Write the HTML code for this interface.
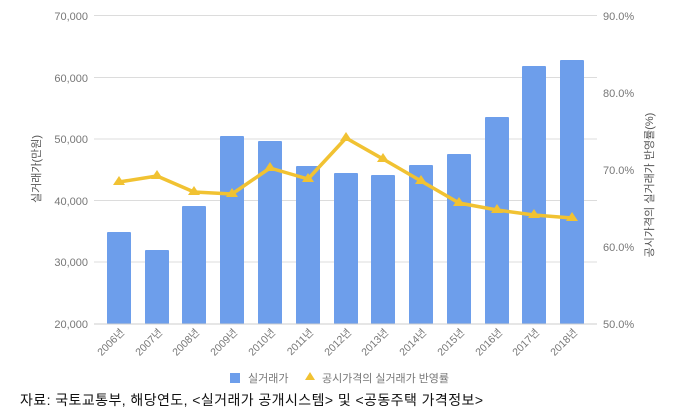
<!DOCTYPE html>
<html><head><meta charset="utf-8"><style>
html,body{margin:0;padding:0;background:#fff;}
svg{display:block;font-family:"Liberation Sans","Noto Sans CJK KR",sans-serif;}
</style></head><body>
<svg width="680" height="419" viewBox="0 0 680 419">
<g stroke="#dcdcdc" stroke-width="1">
<line x1="94" x2="597" y1="15.5" y2="15.5"/>
<line x1="94" x2="597" y1="77.5" y2="77.5"/>
<line x1="94" x2="597" y1="139" y2="139"/>
<line x1="94" x2="597" y1="200.5" y2="200.5"/>
<line x1="94" x2="597" y1="262" y2="262"/>
</g>
<g fill="#6d9eeb">
<rect x="107" y="232" width="24" height="92" rx="1"/>
<rect x="145" y="250" width="24" height="74" rx="1"/>
<rect x="182" y="206" width="24" height="118" rx="1"/>
<rect x="220" y="136" width="24" height="188" rx="1"/>
<rect x="258" y="141" width="24" height="183" rx="1"/>
<rect x="296" y="166" width="24" height="158" rx="1"/>
<rect x="334" y="173" width="24" height="151" rx="1"/>
<rect x="371" y="175" width="24" height="149" rx="1"/>
<rect x="409" y="165" width="24" height="159" rx="1"/>
<rect x="447" y="154" width="24" height="170" rx="1"/>
<rect x="485" y="117" width="24" height="207" rx="1"/>
<rect x="522" y="66" width="24" height="258" rx="1"/>
<rect x="560" y="60" width="24" height="264" rx="1"/>
</g>
<line x1="94" x2="597" y1="324" y2="324" stroke="#ccc"/>
<polyline fill="none" stroke="#f1c232" stroke-width="3.5" stroke-linejoin="round" points="119,182 157,176 194,192 232,194 270,168 308,179 346,138 383,159 421,181 459,203 497,210 534,215 572,218"/>
<g fill="#f1c232">
<path d="M119,176 l6,9 h-12z"/><path d="M157,170 l6,9 h-12z"/><path d="M194,186 l6,9 h-12z"/>
<path d="M232,188 l6,9 h-12z"/><path d="M270,162 l6,9 h-12z"/><path d="M308,173 l6,9 h-12z"/>
<path d="M346,132 l6,9 h-12z"/><path d="M383,153 l6,9 h-12z"/><path d="M421,175 l6,9 h-12z"/>
<path d="M459,197 l6,9 h-12z"/><path d="M497,204 l6,9 h-12z"/><path d="M534,209 l6,9 h-12z"/>
<path d="M572,212 l6,9 h-12z"/>
</g>
<g fill="#777" font-size="11" text-anchor="end">
<text x="88" y="20">70,000</text><text x="88" y="82">60,000</text><text x="88" y="143">50,000</text>
<text x="88" y="205">40,000</text><text x="88" y="266">30,000</text><text x="88" y="328">20,000</text>
</g>
<g fill="#777" font-size="11">
<text x="603" y="20">90.0%</text><text x="603" y="97">80.0%</text><text x="603" y="174">70.0%</text>
<text x="603" y="251">60.0%</text><text x="603" y="328">50.0%</text>
</g>
<text transform="translate(40,169) rotate(-90)" text-anchor="middle" font-size="11" fill="#555">실거래가(만원)</text>
<text transform="translate(653,185) rotate(-90)" text-anchor="middle" font-size="11" fill="#555">공시가격의 실거래가 반영률(%)</text>
<g fill="#777" font-size="10.5" text-anchor="end">
<text transform="translate(125,333) rotate(-45)">2006년</text>
<text transform="translate(163,333) rotate(-45)">2007년</text>
<text transform="translate(200,333) rotate(-45)">2008년</text>
<text transform="translate(238,333) rotate(-45)">2009년</text>
<text transform="translate(276,333) rotate(-45)">2010년</text>
<text transform="translate(314,333) rotate(-45)">2011년</text>
<text transform="translate(352,333) rotate(-45)">2012년</text>
<text transform="translate(389,333) rotate(-45)">2013년</text>
<text transform="translate(427,333) rotate(-45)">2014년</text>
<text transform="translate(465,333) rotate(-45)">2015년</text>
<text transform="translate(503,333) rotate(-45)">2016년</text>
<text transform="translate(540,333) rotate(-45)">2017년</text>
<text transform="translate(578,333) rotate(-45)">2018년</text>
</g>
<rect x="230" y="373" width="10" height="10" fill="#6d9eeb"/>
<text x="248" y="382" font-size="11" fill="#777">실거래가</text>
<path d="M310,372 l5,8 h-10z" fill="#f1c232"/>
<text x="322" y="382" font-size="11" fill="#777" textLength="127" lengthAdjust="spacing">공시가격의 실거래가 반영률</text>
<text x="20" y="405" font-size="14" fill="#111" textLength="463" lengthAdjust="spacing">자료: 국토교통부, 해당연도, &lt;실거래가 공개시스템&gt; 및 &lt;공동주택 가격정보&gt;</text>
</svg>
</body></html>
